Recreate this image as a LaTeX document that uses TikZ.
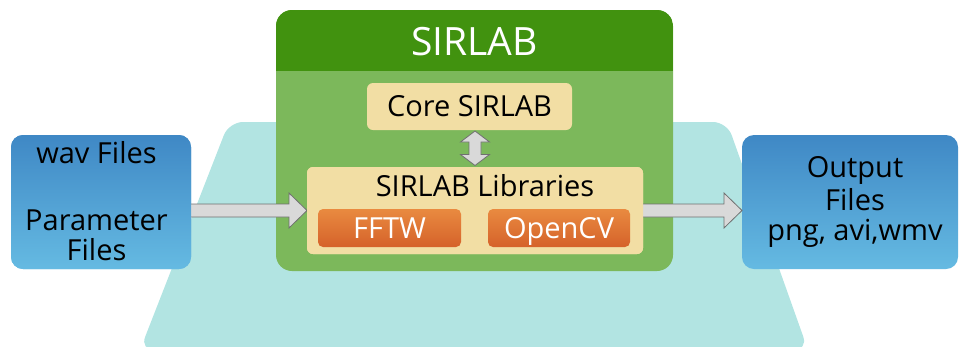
\documentclass[tikz,border=0pt]{standalone}
\usepackage{fontspec}
\setmainfont{Open Sans}
\usetikzlibrary{calc}
\definecolor{trapcol}{HTML}{B2E4E2}
\definecolor{greenD}{HTML}{41920F}
\definecolor{greenL}{HTML}{7CB85B}
\definecolor{wheat}{HTML}{F2DEA4}
\definecolor{orT}{HTML}{E98A40}
\definecolor{orB}{HTML}{D5622A}
\definecolor{blueT}{HTML}{3F88C5}
\definecolor{blueB}{HTML}{65BAE2}
\definecolor{arrfill}{HTML}{D9D9D9}
\definecolor{arrline}{HTML}{707070}
\tikzset{
  bluebox/.style={rounded corners=12pt, top color=blueT, bottom color=blueB, draw=none, inner sep=0pt, outer sep=0pt},
  greenbox/.style={rounded corners=16pt, fill=greenL, inner sep=0pt, outer sep=0pt},
  wheatbox/.style={rounded corners=6pt, fill=wheat, inner sep=0pt, outer sep=0pt, text height=20.5pt, text depth=0pt, font=\fontsize{29}{31}\selectfont},
  orangebox/.style={rounded corners=5pt, top color=orT, bottom color=orB, draw=none, inner sep=0pt, outer sep=0pt, text=white, text height=20.5pt, text depth=0pt, font=\fontsize{29}{31}\selectfont},
  lbl/.style={inner sep=0pt, anchor=base, font=\fontsize{29}{31}\selectfont},
  fatarrow/.style={fill=arrfill, draw=arrline, line width=0.8pt, line join=miter},
}
\begin{document}
\begin{tikzpicture}[x=1pt,y=-1pt]
\useasboundingbox (0,0) rectangle (960,346);
% background trapezoid
\fill[trapcol, rounded corners=14pt] (229,122) -- (727,122) -- (808,350) -- (140,350) -- cycle;
% SIRLAB container
\node[greenbox, minimum width=397pt, minimum height=261pt] (sirlab) at (474.5,140.5) {};
\begin{scope}
  \clip[rounded corners=16pt] (sirlab.north west) rectangle (sirlab.south east);
  \fill[greenD] (sirlab.north west) rectangle ($(sirlab.north east)+(0,61)$);
\end{scope}
\node[lbl, text=white, font=\fontsize{39}{42}\selectfont] (title) at (474.5,55) {SIRLAB};
% boxes (placed first for names)
\node[bluebox, minimum width=180pt, minimum height=134pt] (inbox) at (101,202) {};
\node[bluebox, minimum width=216pt, minimum height=134pt] (outbox) at (850,202) {};
\node[wheatbox, minimum width=205pt, minimum height=47pt] (core) at (469.5,106.5) {Core SIRLAB};
\node[wheatbox, minimum width=336pt, minimum height=87pt] (libs) at (475,210.5) {};
% arrows
\coordinate (aLs) at ($(inbox.east |- libs.west)+(-2,0)$);
\coordinate (aLe) at (libs.west);
\coordinate (aRs) at ($(libs.east)+(-2,0)$);
\coordinate (aRe) at (outbox.west |- libs.east);
\draw[fatarrow] ($(aLs)+(0,-6.5)$) -- ($(aLe)+(-18,-6.5)$) -- ($(aLe)+(-18,-17.5)$) -- (aLe) -- ($(aLe)+(-18,17.5)$) -- ($(aLe)+(-18,6.5)$) -- ($(aLs)+(0,6.5)$) -- cycle;
\draw[fatarrow] ($(aRs)+(0,-6.5)$) -- ($(aRe)+(-18,-6.5)$) -- ($(aRe)+(-18,-17.5)$) -- (aRe) -- ($(aRe)+(-18,17.5)$) -- ($(aRe)+(-18,6.5)$) -- ($(aRs)+(0,6.5)$) -- cycle;
\coordinate (vT) at ($(libs.north |- core.south)+(0,1)$);
\coordinate (vB) at ($(libs.north)+(0,-1.5)$);
\draw[fatarrow] (vT) -- ($(vT)+(14.5,11)$) -- ($(vT)+(6,11)$) -- ($(vB)+(6,-11)$) -- ($(vB)+(14.5,-11)$) -- (vB) -- ($(vB)+(-14.5,-11)$) -- ($(vB)+(-6,-11)$) -- ($(vT)+(-6,11)$) -- ($(vT)+(-14.5,11)$) -- cycle;
% redraw boxes over arrow ends
\node[bluebox, minimum width=180pt, minimum height=134pt] at (inbox.center) {};
\node[wheatbox, minimum width=336pt, minimum height=87pt] at (libs.center) {};
\node[orangebox, minimum width=143pt, minimum height=38pt] (fftw) at (389.5,228) {FFTW};
\node[orangebox, minimum width=142pt, minimum height=38pt] (opencv) at (559,228) {OpenCV};
% labels
\node[lbl] (libslbl) at (485,196) {SIRLAB Libraries};
\node[lbl] (in1) at (96.5,163) {wav Files};
\node[lbl] (in2) at (96.5,230) {Parameter};
\node[lbl] (in3) at (96.5,260) {Files};
\node[lbl] (out1) at (855,177) {Output};
\node[lbl] (out2) at (855,210) {Files};
\node[lbl] (out3) at (855,240) {png, avi,wmv};
\end{tikzpicture}
\end{document}
